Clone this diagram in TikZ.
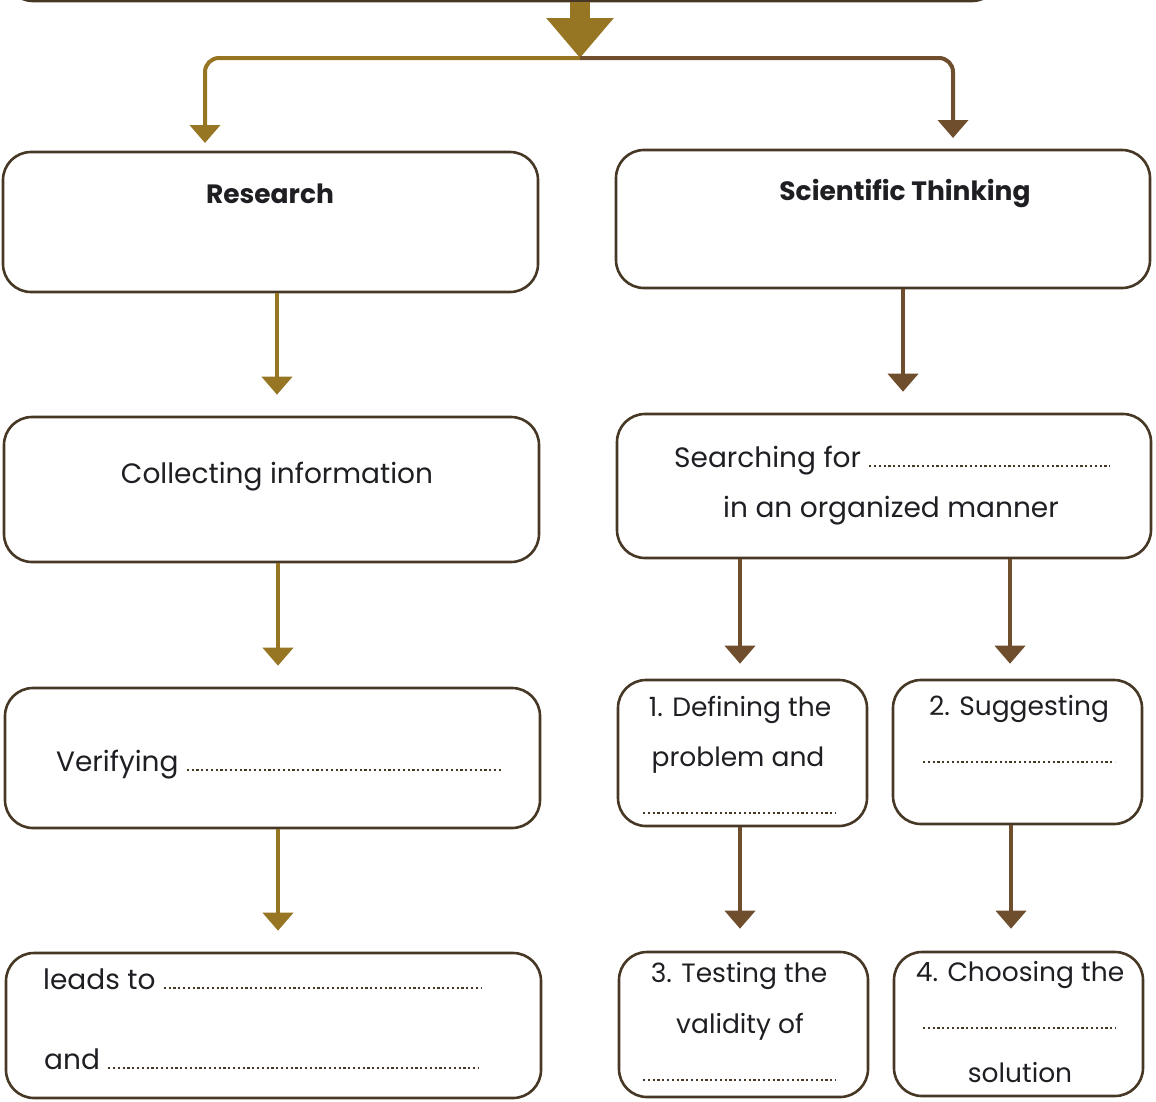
\documentclass[tikz,border=0pt]{standalone}
\usepackage{fontspec}
\setmainfont{Poppins}
\usepackage{tikz}
\usetikzlibrary{arrows.meta}
\usetikzlibrary{shapes,positioning}
\definecolor{arrgold}{RGB}{150,118,35}
\definecolor{arrbrown}{RGB}{110,78,45}
\definecolor{boxline}{RGB}{70,56,36}
\definecolor{inkdark}{RGB}{30,30,35}
\tikzset{
  box/.style={draw=boxline, line width=2.6pt, rounded corners=28pt,
    rectangle, inner sep=0pt},
  txt/.style={font=\fontsize{28}{32}\selectfont, text=inkdark, inner sep=0pt, yshift=-8pt},
  smalltxt/.style={txt, font=\fontsize{26.5}{30}\selectfont},
  head/.style={txt, font=\fontsize{26.5}{30}\selectfont\bfseries},
  arr/.style={line width=4pt, -{Triangle[width=30pt,length=18pt]}},
  dotline/.style={line width=2.2pt, dash pattern=on 2.2pt off 2.6pt, boxline}
}

\begin{document}
\begin{tikzpicture}[x=1pt,y=-1pt,line cap=butt]

    \useasboundingbox (0,0) rectangle (1156,1101);
    \clip (0,0) rectangle (1156,1101);

    % boxes
    \node[box, minimum width=995pt, minimum height=122pt] (topbox) at (502.5,-60) {};
    \node[box, minimum width=535pt, minimum height=140pt] (research) at (270.5,222) {};
    \node[box, minimum width=534pt, minimum height=138pt] (sci) at (883,219) {};
    \node[box, minimum width=535pt, minimum height=145pt] (collect) at (271.5,489.5) {};
    \node[box, minimum width=534pt, minimum height=144pt] (search) at (884,486) {};
    \node[box, minimum width=535pt, minimum height=140pt] (verify) at (272.5,758) {};
    \node[box, minimum width=535pt, minimum height=145pt] (leads) at (273.5,1025.5) {};
    \node[box, minimum width=249pt, minimum height=146pt] (define) at (742.5,753) {};
    \node[box, minimum width=249pt, minimum height=144pt] (suggest) at (1017.5,752) {};
    \node[box, minimum width=249pt, minimum height=145pt] (test) at (743.5,1024.5) {};
    \node[box, minimum width=249pt, minimum height=144pt] (choose) at (1018.5,1024) {};

    % big arrow and the split
    \coordinate (split) at (580,58);
    \draw [arrgold, line width=20pt, -{Triangle[width=65pt,length=40pt]}]
        ([xshift=77.5pt]topbox.south) -- (split);
    \draw [arrgold, line width=4pt, rounded corners=14pt, -{Triangle[width=30pt,length=18pt]}]
        (split) -- (205,58) -- (205,143);
    \draw [arrbrown, line width=4pt, rounded corners=14pt, -{Triangle[width=30pt,length=18pt]}]
        (split) -- (953,58) -- (953,138);

    % arrows between boxes
    \draw [arr, arrgold, shorten >=21pt] ([xshift=6.5pt]research.south) -- ([xshift=6.5pt]research.south |- collect.north);
    \draw [arr, arrgold, shorten >=21pt] ([xshift=6.5pt]collect.south) -- ([xshift=6.5pt]collect.south |- verify.north);
    \draw [arr, arrgold, shorten >=21pt] ([xshift=5.5pt]verify.south) -- ([xshift=5.5pt]verify.south |- leads.north);
    \draw [arr, arrbrown, shorten >=21pt] ([xshift=20pt]sci.south) -- ([xshift=20pt]sci.south |- search.north);
    \draw [arr, arrbrown, shorten >=15pt] ([xshift=-144pt]search.south) -- ([xshift=-144pt]search.south |- define.north);
    \draw [arr, arrbrown, shorten >=15pt] ([xshift=126pt]search.south) -- ([xshift=126pt]search.south |- suggest.north);
    \draw [arr, arrbrown, shorten >=22pt] ([xshift=-2.5pt]define.south) -- ([xshift=-2.5pt]define.south |- test.north);
    \draw [arr, arrbrown, shorten >=22pt] ([xshift=-6.5pt]suggest.south) -- ([xshift=-6.5pt]suggest.south |- choose.north);

    % texts
    \node[head, anchor=mid] (tresearch) at (270,193) {Research};
    \node[head, anchor=mid] (tsci) at (905,190) {Scientific Thinking};
    \node[txt, anchor=mid] (tcollect) at (277,473) {Collecting information};

    \node[txt, anchor=mid west] (tsearchfor) at (674,457) {Searching for};
    \draw [dotline] ([xshift=8pt,yshift=2pt]tsearchfor.base east) -- ([yshift=2pt]1110,0 |- tsearchfor.base);
    \node[txt, anchor=mid] (tmanner) at (891,507) {in an organized manner};

    \node[txt, anchor=mid west] (tverify) at (56,761) {Verifying};
    \draw [dotline] ([xshift=8pt,yshift=2pt]tverify.base east) -- ([yshift=2pt]501,0 |- tverify.base);

    \node[txt, anchor=mid west] (tleads) at (43,979) {leads to};
    \draw [dotline] ([xshift=8pt,yshift=2pt]tleads.base east) -- ([yshift=2pt]481,0 |- tleads.base);
    \node[txt, anchor=mid west] (tand) at (44,1059) {and};
    \draw [dotline] ([xshift=8pt,yshift=2pt]tand.base east) -- ([yshift=2pt]478,0 |- tand.base);

    \node[smalltxt, anchor=mid] (tdefine) at (740,706) {1. Defining the};
    \node[smalltxt, anchor=mid] (tproblem) at (738,756) {problem and};
    \draw [dotline] (643,813) -- (836,813);

    \node[smalltxt, anchor=mid] (tsuggest) at (1019,705) {2. Suggesting};
    \draw [dotline] (923,762) -- (1115,762);

    \node[smalltxt, anchor=mid] (ttest) at (739,972) {3. Testing the};
    \node[smalltxt, anchor=mid] (tvalid) at (740,1023) {validity of};
    \draw [dotline] (643,1080) -- (836,1080);

    \node[smalltxt, anchor=mid] (tchoose) at (1020,971) {4. Choosing the};
    \draw [dotline] (923,1028) -- (1116,1028);
    \node[smalltxt, anchor=mid] (tsolution) at (1020,1072) {solution};

\end{tikzpicture}
\end{document}
